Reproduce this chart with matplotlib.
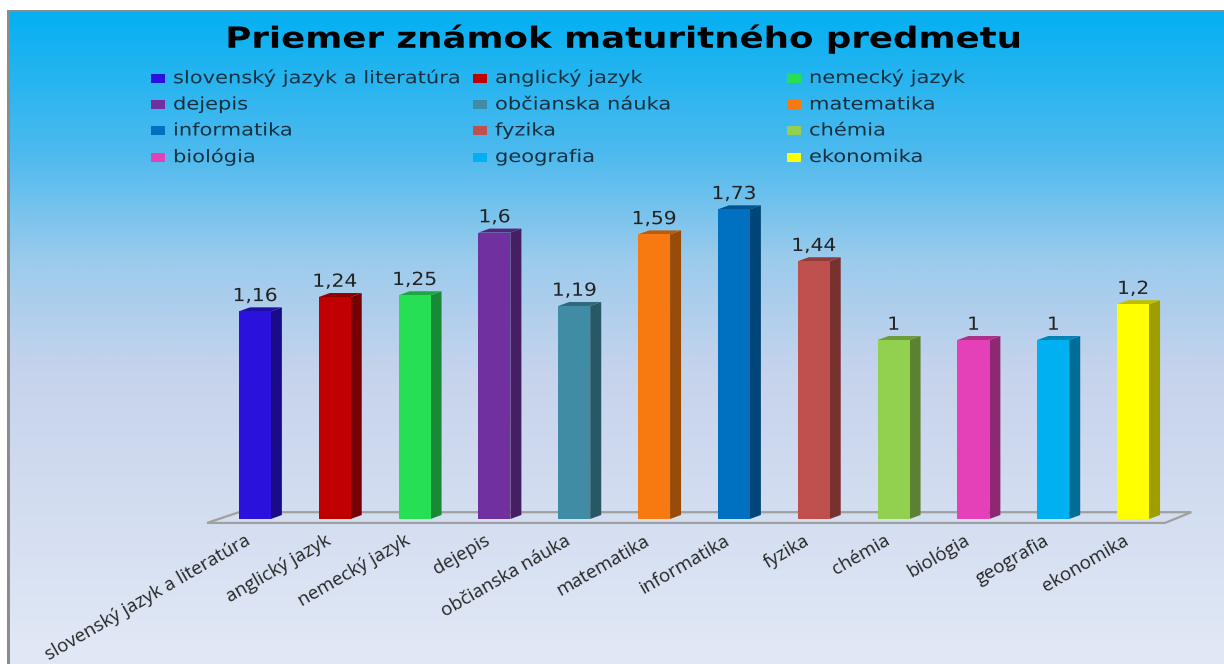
import matplotlib
matplotlib.use("Agg")
import numpy as np
import matplotlib.pyplot as plt
from matplotlib.colors import LinearSegmentedColormap
from matplotlib.patches import Polygon, Rectangle
from matplotlib.patheffects import AbstractPathEffect
from matplotlib.transforms import Affine2D, ScaledTranslation

W, H = 1224, 664

predmety = ["slovenský jazyk a literatúra", "anglický jazyk", "nemecký jazyk", "dejepis",
            "občianska náuka", "matematika", "informatika", "fyzika", "chémia", "biológia",
            "geografia", "ekonomika"]
priemer = [1.16, 1.24, 1.25, 1.6, 1.19, 1.59, 1.73, 1.44, 1, 1, 1, 1.2]
popisky = ["1,16", "1,24", "1,25", "1,6", "1,19", "1,59", "1,73", "1,44", "1", "1", "1", "1,2"]
farby = ["#2a12dc", "#c00000", "#26df55", "#7030a0", "#408ca4", "#f67a10", "#0070c0", "#c0504d",
         "#92d050", "#e440b8", "#00b0f0", "#ffff00"]


def tmavsia(c, k):
    r, g, b = matplotlib.colors.to_rgb(c)
    return (r * k, g * k, b * k)


# originalny obrazok je vodorovne natiahnuty, tak text tiez
class Roztiahni(AbstractPathEffect):
    def __init__(self, sx, x0):
        super().__init__()
        self.sx = sx
        self.x0 = x0

    def draw_path(self, renderer, gc, tpath, affine, rgbFace=None):
        t = affine + Affine2D().translate(-self.x0, 0).scale(self.sx, 1).translate(self.x0, 0)
        renderer.draw_path(gc, tpath, t, rgbFace)


fig = plt.figure(figsize=(W / 100, H / 100), dpi=100, facecolor="white")

# pozadie s prechodom
bg = fig.add_axes([9 / W, 0, 1 - 9 / W, 1 - 12 / H])
grad_cm = LinearSegmentedColormap.from_list("bg", [(0, "#05b0f2"), (0.22, "#4fbaee"), (0.38, "#9ccbec"),
                                                   (0.55, "#c6d3ec"), (1, "#e2e9f6")])
bg.imshow(np.linspace(0, 1, 256).reshape(-1, 1), aspect="auto", cmap=grad_cm, extent=[0, 1, 0, 1])
bg.set_xticks([])
bg.set_yticks([])
for s in bg.spines.values():
    s.set_visible(False)
fig.add_artist(Rectangle((7 / W, 0), 2.5 / W, 1 - 11 / H, transform=fig.transFigure, color="#8c8c8c", lw=0))
fig.add_artist(Rectangle((7 / W, 1 - 12 / H), 1, 1.5 / H, transform=fig.transFigure, color="#8c8c8c", lw=0))

# os grafu: x v kategoriach, y v znamkach
ax = fig.add_axes([215 / W, (H - 519) / H, 958 / W, 358 / H])
ax.patch.set_alpha(0)
ax.set_xlim(-0.5, 11.5)
ax.set_ylim(0, 2)
for s in ax.spines.values():
    s.set_visible(False)

x = np.arange(len(predmety))
sirka = 0.4
dx = 11 / 79.8
dy = 4 / 179

# podlaha
podlaha = Polygon([(-0.6, -0.022), (11.4, -0.022), (11.4 + 0.33, 0.038), (-0.2, 0.038)],
                  closed=True, fc="none", ec="#a0a0a0", lw=1.6, clip_on=False, zorder=1)
ax.add_patch(podlaha)

bary = ax.bar(x, priemer, width=sirka, color=farby, zorder=4, edgecolor="none")
for xi, v, c, t in zip(x, priemer, farby, popisky):
    l, r = xi - sirka / 2, xi + sirka / 2
    ax.add_patch(Polygon([(r, 0), (r + dx, dy), (r + dx, v + dy), (r, v)], fc=tmavsia(c, 0.62), lw=0, zorder=3))
    ax.add_patch(Polygon([(l, v), (l + dx, v + dy), (r + dx, v + dy), (r, v)], fc=tmavsia(c, 0.75), lw=0, zorder=3))
    stred = ax.transData.transform((xi, v))[0]
    ax.text(xi, v + 0.035, t, ha="center", va="bottom", fontsize=13, color="#222222", family="DejaVu Sans",
            path_effects=[Roztiahni(1.12, stred)])

ax.set_yticks([])
ax.set_xticks(x)
ax.set_xticklabels(predmety, rotation=30, ha="right", rotation_mode="anchor", fontsize=13.5,
                   family="Open Sans", color="#262626")
ax.tick_params(axis="x", length=0, pad=9)
posun = ScaledTranslation(-10 / 100, 0, fig.dpi_scale_trans)
for lab in ax.get_xticklabels():
    lab.set_transform(lab.get_transform() + posun)

fig.text(623 / W, 1 - 39 / H, "Priemer známok maturitného predmetu", ha="center", va="center",
         fontsize=21, fontweight="bold", family="DejaVu Sans", color="black",
         path_effects=[Roztiahni(1.22, 623)])

# legenda po riadkoch
stlpce = [151, 473, 787]
riadky = [78, 104.5, 130.5, 157]
for i, (p, c) in enumerate(zip(predmety, farby)):
    px = stlpce[i % 3]
    py = riadky[i // 3]
    fig.add_artist(Rectangle((px / W, 1 - (py + 4.5) / H), 14 / W, 9 / H, transform=fig.transFigure, color=c, lw=0))
    fig.text((px + 22) / W, 1 - py / H, p, ha="left", va="center", fontsize=12.5, family="DejaVu Sans",
             color="#17303f", path_effects=[Roztiahni(1.21, px + 22)])

fig.savefig("out.png", dpi=100)
